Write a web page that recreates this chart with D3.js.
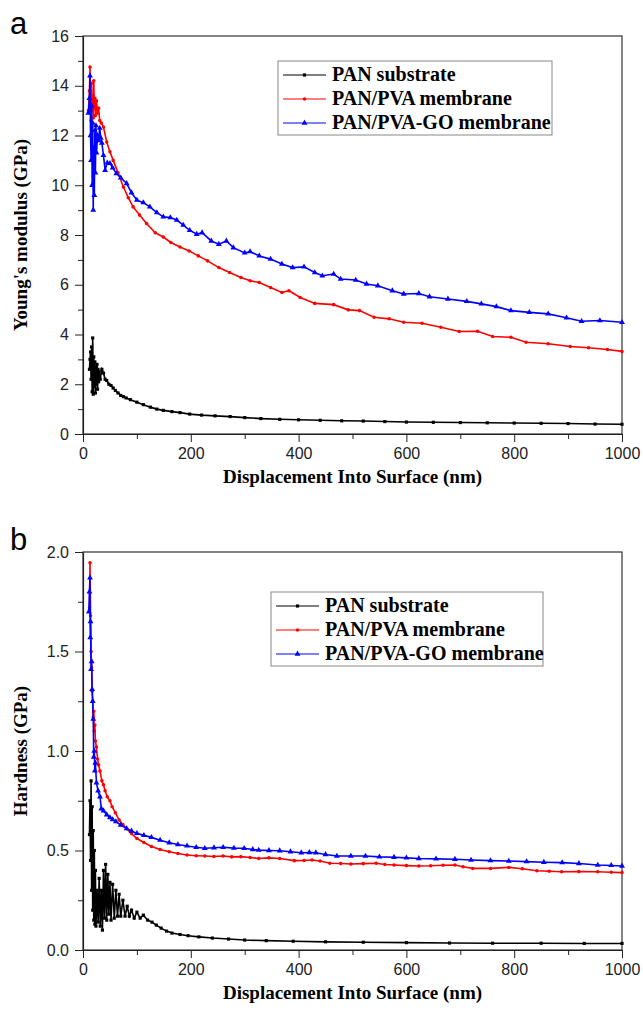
<!DOCTYPE html>
<html>
<head>
<meta charset="utf-8">
<script src="https://cdn.jsdelivr.net/npm/d3@7"></script>
<style>
  body { margin: 0; background: #fff; }
  svg { display: block; }
  .tick text { font-family: "Liberation Sans", Arial, sans-serif; font-size: 16px; fill: #222; }
  .tick line, .domain { stroke: #222; }
  .title { font-family: "Liberation Serif", "Times New Roman", serif; font-weight: bold; font-size: 19px; }
  .legend text { font-family: "Liberation Serif", "Times New Roman", serif; font-weight: bold; font-size: 20px; }
  .panel { font-family: "Liberation Sans", Arial, sans-serif; font-size: 31px; }
</style>
</head>
<body>
<div id="chart"></div>
<script>
// series names
const seriesNames = ["PAN substrate", "PAN/PVA membrane", "PAN/PVA-GO membrane"];

// (a) Young's modulus, displacement in nm / modulus in GPa
const modPanX = [12,13,14,15,16,17,18,19,20,21,22,23,24,25,26,27,28,29,30,32,35,38,41,44,48,52,56,60,65,70,75,80,88,100,112,125,137,149,165,180,198,220,245,273,300,330,365,400,440,480,520,560,600,650,700,750,800,850,900,950,1000];
const modPanY = [2.6,3.0,3.3,2.2,3.5,1.7,3.86,1.6,3.1,1.9,2.9,1.65,2.7,2.0,2.8,1.8,2.6,2.1,2.5,2.2,2.6,2.45,2.2,2.15,2.0,1.95,1.85,1.75,1.65,1.55,1.5,1.45,1.38,1.28,1.18,1.08,1.0,0.95,0.9,0.86,0.8,0.76,0.73,0.7,0.66,0.62,0.59,0.57,0.55,0.53,0.52,0.5,0.48,0.47,0.46,0.45,0.44,0.43,0.42,0.4,0.39];

const modPvaX = [10,12,13,14,15,16,17,18,19,20,21,22,23,25,27,29,31,34,38,44,50,56,65,75,84,93,105,118,134,149,163,180,197,214,231,252,272,293,310,327,348,369,382,403,430,465,492,513,540,568,595,629,664,698,732,760,794,822,863,904,938,973,1000];
const modPvaY = [13.0,13.8,14.75,13.2,12.6,14.1,13.0,13.6,12.7,14.2,13.1,13.5,12.8,13.4,12.9,13.1,12.6,12.5,12.34,11.74,11.35,11.0,10.5,9.93,9.5,9.13,8.8,8.46,8.09,7.92,7.7,7.52,7.36,7.16,6.96,6.69,6.49,6.29,6.16,6.09,5.89,5.69,5.76,5.49,5.25,5.2,4.99,4.96,4.69,4.63,4.49,4.45,4.29,4.12,4.13,3.92,3.89,3.69,3.63,3.52,3.47,3.4,3.32];

const modGoX = [10,12,13,14,15,16,17,18,19,20,21,22,23,24,25,27,29,31,33,35,38,41,45,50,55,62,70,81,90,100,112,124,137,149,162,174,186,198,211,221,238,252,266,279,300,310,327,348,369,389,410,430,444,465,478,506,526,547,574,595,623,643,677,712,739,767,794,828,863,897,925,959,1000];
const modGoY = [12.9,13.5,14.4,12.0,11.0,13.2,10.0,12.5,9.0,11.5,9.6,12.2,10.5,12.4,11.3,12.0,11.8,12.3,11.9,11.7,11.2,10.6,10.9,10.88,10.7,10.47,10.3,10.07,9.7,9.4,9.3,9.13,8.9,8.73,8.7,8.6,8.4,8.19,8.03,8.09,7.76,7.63,7.76,7.49,7.28,7.33,7.16,7.03,6.83,6.69,6.72,6.49,6.36,6.43,6.23,6.19,6.03,5.96,5.76,5.63,5.65,5.52,5.43,5.33,5.23,5.12,4.96,4.89,4.83,4.67,4.53,4.56,4.49];

// (b) Hardness, GPa
const hardPanX = [12,13,14,15,16,17,18,19,20,21,22,23,24,26,28,30,32,34,36,38,40,42,44,46,48,50,52,55,58,61,64,67,70,74,78,82,86,90,95,100,106,112,120,128,136,145,155,165,180,195,215,240,270,300,340,390,450,520,600,680,760,850,930,1000];
const hardPanY = [0.58,0.75,0.45,0.85,0.3,0.72,0.2,0.6,0.15,0.5,0.13,0.4,0.12,0.3,0.14,0.36,0.12,0.3,0.1,0.4,0.16,0.43,0.15,0.38,0.18,0.34,0.15,0.33,0.16,0.3,0.17,0.28,0.17,0.25,0.17,0.22,0.17,0.2,0.16,0.19,0.16,0.175,0.15,0.14,0.125,0.11,0.095,0.085,0.078,0.072,0.066,0.06,0.055,0.05,0.047,0.044,0.041,0.039,0.037,0.035,0.034,0.034,0.033,0.033];

const hardPvaX = [12,13,14,15,16,17,18,19,20,21,22,23,25,27,29,31.5,35,38,41,45,50,54,60,67,74,81,90,100,113,127,143,160,176,193,210,226,243,260,276,293,310,326,345,365,392,410,425,440,458,478,497,520,544,560,577,600,623,645,668,690,705,723,756,790,815,842,865,888,920,955,980,1000];
const hardPvaY = [1.72,1.946,1.68,1.5,1.42,1.3,1.25,1.17,1.2,1.1,1.13,1.05,1.02,0.96,0.93,0.9,0.85,0.83,0.8,0.77,0.75,0.72,0.69,0.653,0.63,0.61,0.585,0.56,0.54,0.52,0.505,0.494,0.485,0.477,0.474,0.472,0.47,0.472,0.468,0.469,0.465,0.46,0.463,0.46,0.449,0.45,0.452,0.447,0.436,0.435,0.432,0.434,0.436,0.43,0.427,0.424,0.422,0.423,0.426,0.427,0.418,0.41,0.41,0.415,0.408,0.398,0.396,0.393,0.394,0.393,0.391,0.389];

const hardGoX = [11,12,13,13.5,14,15,16,17,18,19,20,21,22,23,25,28,31.5,34,38,44,50,55,61,70,81,90,100,113,127,143,160,176,193,210,226,243,260,280,299,315,326,345,365,385,405,420,432,450,471,497,524,550,577,600,623,655,690,720,756,790,823,855,889,920,955,980,1000];
const hardGoY = [1.7,1.8,1.87,1.57,1.65,1.41,1.45,1.31,1.25,1.16,0.97,1.0,0.9,0.94,0.84,0.8,0.77,0.71,0.7,0.68,0.665,0.655,0.645,0.628,0.61,0.598,0.586,0.576,0.566,0.552,0.539,0.53,0.523,0.516,0.511,0.514,0.516,0.512,0.511,0.505,0.502,0.5,0.499,0.494,0.489,0.49,0.489,0.48,0.472,0.472,0.472,0.468,0.466,0.463,0.46,0.458,0.456,0.452,0.449,0.447,0.444,0.441,0.439,0.435,0.427,0.425,0.422];

const xTicks = [0, 200, 400, 600, 800, 1000];
const modTicks = [0, 2, 4, 6, 8, 10, 12, 14, 16];
const hardTicks = [0.0, 0.5, 1.0, 1.5, 2.0];

const colors = ["#000000", "#ff0000", "#0000ff"];
const symbols = [d3.symbolSquare, d3.symbolCircle, d3.symbolTriangle];
const symSizes = [10, 10, 15];

const W = 643, H = 1011;
const svg = d3.select("#chart").append("svg").attr("width", W).attr("height", H);

function zip(xs, ys) { return xs.map((x, i) => ({ x: x, y: ys[i] })); }

function panel(cfg) {
  const x = d3.scaleLinear().domain([0, 1000]).range([83, 622]);
  const y = d3.scaleLinear().domain(cfg.yDomain).range([cfg.bottom, cfg.top]);
  const g = svg.append("g");

  // frame
  g.append("rect")
    .attr("x", 83).attr("y", cfg.top)
    .attr("width", 622 - 83).attr("height", cfg.bottom - cfg.top)
    .attr("fill", "none").attr("stroke", "#333").attr("stroke-width", 1.2);

  // minor ticks
  const xMinor = d3.range(100, 1000, 200);
  g.append("g").attr("transform", "translate(0," + cfg.bottom + ")")
    .call(d3.axisBottom(x).tickValues(xMinor).tickSize(5).tickFormat(""))
    .call(a => a.select(".domain").remove());
  g.append("g").attr("transform", "translate(83,0)")
    .call(d3.axisLeft(y).tickValues(cfg.yMinor).tickSize(5).tickFormat(""))
    .call(a => a.select(".domain").remove());

  // major axes
  g.append("g").attr("transform", "translate(0," + cfg.bottom + ")")
    .call(d3.axisBottom(x).tickValues(xTicks).tickSize(8).tickSizeOuter(0).tickPadding(6).tickFormat(d3.format("d")))
    .call(a => a.select(".domain").attr("stroke-width", 1.2));
  g.append("g").attr("transform", "translate(83,0)")
    .call(d3.axisLeft(y).tickValues(cfg.yTicks).tickSize(8).tickSizeOuter(0).tickPadding(6).tickFormat(cfg.fmt))
    .call(a => a.select(".domain").attr("stroke-width", 1.2));

  const line = d3.line().x(d => x(d.x)).y(d => y(d.y));

  cfg.series.forEach((s, i) => {
    const data = zip(s[0], s[1]);
    g.append("path").datum(data)
      .attr("fill", "none").attr("stroke", colors[i]).attr("stroke-width", 1.6)
      .attr("d", line);
    g.append("g").selectAll("path").data(data).enter().append("path")
      .attr("transform", d => "translate(" + x(d.x) + "," + y(d.y) + ")")
      .attr("d", d3.symbol().type(symbols[i]).size(symSizes[i]))
      .attr("fill", colors[i]);
  });

  // axis titles
  g.append("text").attr("class", "title")
    .attr("x", (83 + 622) / 2).attr("y", cfg.bottom + 49)
    .attr("text-anchor", "middle").text("Displacement Into Surface (nm)");
  g.append("text").attr("class", "title")
    .attr("transform", "translate(27," + ((cfg.top + cfg.bottom) / 2) + ") rotate(-90)")
    .attr("text-anchor", "middle").text(cfg.yTitle);

  // panel letter
  g.append("text").attr("class", "panel")
    .attr("x", 10).attr("y", cfg.top - 2).text(cfg.letter);

  // legend
  const lg = g.append("g").attr("class", "legend");
  lg.append("rect")
    .attr("x", cfg.leg.x).attr("y", cfg.leg.y).attr("width", cfg.leg.w).attr("height", cfg.leg.h)
    .attr("fill", "#fff").attr("stroke", "#888").attr("stroke-width", 1);
  seriesNames.forEach((name, i) => {
    const cy = cfg.leg.y + 14 + i * 24;
    const lx = cfg.leg.x + 5;
    lg.append("line").attr("x1", lx).attr("x2", lx + 43).attr("y1", cy).attr("y2", cy)
      .attr("stroke", colors[i]).attr("stroke-width", 1.2);
    lg.append("path").attr("transform", "translate(" + (lx + 21.5) + "," + cy + ")")
      .attr("d", d3.symbol().type(symbols[i]).size(symSizes[i])).attr("fill", colors[i]);
    lg.append("text").attr("x", lx + 49).attr("y", cy + 6).text(name);
  });
}

panel({
  top: 36, bottom: 434, yDomain: [0, 16],
  yTicks: modTicks, yMinor: d3.range(1, 16, 2), fmt: d3.format("d"),
  yTitle: "Young's modulus (GPa)", letter: "a",
  leg: { x: 278, y: 61, w: 274, h: 74 },
  series: [[modPanX, modPanY], [modPvaX, modPvaY], [modGoX, modGoY]]
});

panel({
  top: 552, bottom: 950, yDomain: [0, 2],
  yTicks: hardTicks, yMinor: [0.25, 0.75, 1.25, 1.75], fmt: d3.format(".1f"),
  yTitle: "Hardness (GPa)", letter: "b",
  leg: { x: 271, y: 592, w: 272, h: 74 },
  series: [[hardPanX, hardPanY], [hardPvaX, hardPvaY], [hardGoX, hardGoY]]
});
</script>
</body>
</html>
